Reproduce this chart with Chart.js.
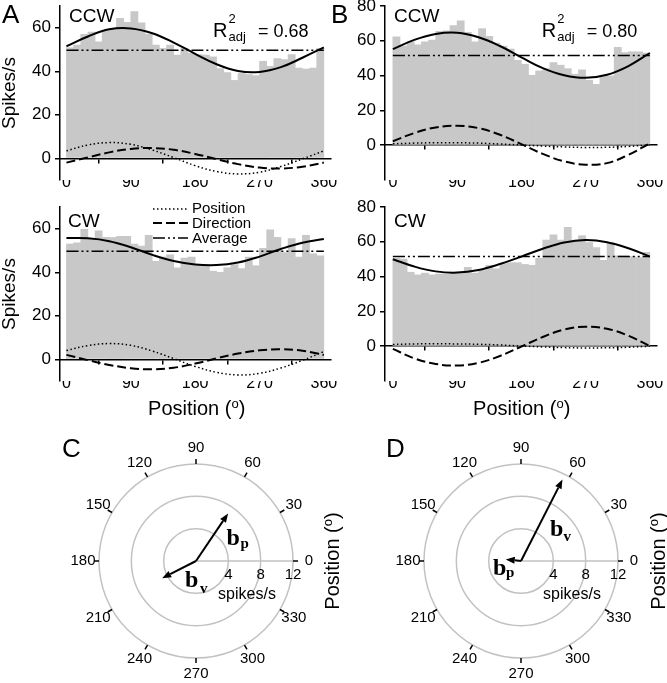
<!DOCTYPE html>
<html>
<head>
<meta charset="utf-8">
<script src="https://cdn.jsdelivr.net/npm/chart.js@4.4.1/dist/chart.umd.min.js"></script>
<style>
  body { margin: 0; background: #fff; }
  #fig { position: relative; width: 667px; height: 683px; overflow: hidden; color: #000;
         font-family: "Liberation Sans", Arial, sans-serif; }
  #fig canvas { position: absolute; }
  .t { position: absolute; white-space: nowrap; line-height: 1; }
  .vert { position: absolute; white-space: nowrap; line-height: 1; transform: translate(-50%, -50%) rotate(-90deg); }
</style>
</head>
<body>
<div id="fig">
  <canvas id="ccwA" width="340" height="210" style="left:0px;top:-10px"></canvas>
  <canvas id="cwA" width="340" height="211" style="left:0px;top:190px"></canvas>
  <canvas id="ccwB" width="337" height="210" style="left:330px;top:-10px"></canvas>
  <canvas id="cwB" width="337" height="211" style="left:330px;top:190px"></canvas>
  <canvas id="polC" width="300" height="260" style="left:46px;top:431px"></canvas>
  <canvas id="polD" width="300" height="260" style="left:371px;top:431px"></canvas>
  <svg style="position:absolute;left:150px;top:200px" width="42" height="45">
    <line x1="3" y1="9" x2="38" y2="9" stroke="#000" stroke-width="1.5" stroke-dasharray="1.5 2.5"/>
    <line x1="3" y1="23" x2="38" y2="23" stroke="#000" stroke-width="2" stroke-dasharray="9 4"/>
    <line x1="3" y1="38" x2="38" y2="38" stroke="#000" stroke-width="1.5" stroke-dasharray="12 3 2 3 2 3"/>
  </svg>
</div>
<script>
// histogram bins (10 deg each) and fitted curves read at 30 deg steps
const binCenters = [5, 15, 25, 35, 45, 55, 65, 75, 85, 95, 105, 115, 125, 135, 145, 155, 165, 175,
                    185, 195, 205, 215, 225, 235, 245, 255, 265, 275, 285, 295, 305, 315, 325, 335, 345, 355];
const curveDeg = [0, 30, 60, 90, 120, 150, 180, 210, 240, 270, 300, 330, 360];
const xTickLabels = [0, 90, 180, 270, 360];

// panel A, CCW
const barsAccw = [50.8, 52, 57, 58, 53.5, 58.6, 59.4, 64.3, 62.5, 67.4, 62.3, 57, 52, 50.5, 52, 47.4, 50.5, 48.2,
                  47.7, 47.4, 46.6, 41.2, 39.4, 35.8, 39, 38.5, 38, 44.6, 42.3, 45.8, 45.4, 47.7, 41.5, 41, 41.5, 50.5];
const fitAccw = [51.5, 56.0, 59.3, 59.7, 57.5, 53.2, 48.0, 43.2, 40.1, 39.7, 41.9, 46.2, 51.0];
const posAccw = [3.4, 6.1, 7.2, 6.4, 3.8, 0.3, -3.4, -6.1, -7.2, -6.4, -3.8, -0.3, 3.4];
const dirAccw = [-2.0, 0.4, 2.7, 4.3, 4.7, 3.9, 2.0, -0.4, -2.7, -4.3, -4.7, -3.9, -2.0];
const avgAccw = 49.6;

// panel A, CW
const barsAcw = [53, 53.5, 59.7, 55.5, 59, 56, 56, 56.5, 56.5, 53, 52, 57, 45, 47, 48, 42, 46.5, 47,
                 43.5, 43, 40.5, 40, 42, 43.5, 41.7, 47, 43, 51, 59.5, 56, 49, 55.5, 47, 57, 48.5, 47.5];
const fitAcw = [55.7, 55.6, 54.3, 51.5, 48.0, 45.2, 43.6, 43.3, 44.5, 47.2, 50.7, 53.6, 55.3];
const posAcw = [4.0, 6.3, 7.2, 6.4, 3.8, 0.3, -3.3, -6.0, -7.2, -6.5, -4.0, -0.5, 3.5];
const dirAcw = [2.0, -0.4, -2.6, -4.1, -4.6, -3.9, -2.0, 0.4, 2.6, 4.1, 4.6, 3.9, 2.0];
const avgAcw = 49.6;

// panel B, CCW
const barsBccw = [62.3, 57, 59.4, 57.7, 59.4, 60.4, 65.4, 65.8, 68.7, 71.5, 64.8, 59.4, 67, 62.5, 58.7, 57, 55.2, 48.8,
                  46.5, 40.2, 42.7, 44, 47.5, 46, 44, 40.8, 43.3, 37.3, 35, 40.2, 39.8, 56.2, 53.3, 53.7, 53.7, 52.9];
const fitBccw = [55.2, 60.5, 63.9, 64.6, 62.0, 57.0, 50.5, 44.3, 40.2, 38.7, 40.5, 45.5, 53.0];
const posBccw = [0.8, 1.2, 1.4, 1.4, 1.2, 0.7, 0.1, -0.5, -1.0, -1.3, -1.2, -0.7, 0.2];
const dirBccw = [2.3, 7.0, 10.2, 11.2, 9.8, 6.0, 0.6, -5.0, -9.3, -11.2, -10.3, -5.5, 1.0];
const avgBccw = 51.6;

// panel B, CW
const barsBcw = [50.5, 50, 42.5, 41, 42, 41, 41.5, 41.5, 42.5, 42.5, 45.3, 42, 43.5, 46.5, 44.5, 47.5, 48, 48,
                 47, 46.5, 50.5, 61, 64, 61, 68.3, 61, 63.5, 59.6, 56.7, 49.4, 59.6, 52, 52, 51.5, 51, 54];
const fitBcw = [50.0, 45.8, 43.0, 42.3, 43.8, 47.2, 51.5, 56.0, 59.6, 61.0, 59.8, 56.3, 51.5];
const posBcw = [1.0, 1.3, 1.4, 1.3, 1.1, 0.7, 0.1, -0.4, -0.8, -1.0, -0.9, -0.6, 0.0];
const dirBcw = [-1.5, -7.0, -10.2, -11.1, -9.6, -5.6, -0.2, 5.3, 9.6, 11.2, 10.0, 6.0, 0.0];
const avgBcw = 51.6;

// polar panels: regression vectors (magnitude in spikes/s, angle in deg)
const polarAngleLabels = ['90', '60', '30', '0', '330', '300', '270', '240', '210', '180', '150', '120'];
const polarRingTicks = [4, 8, 12];
const vecC = { mag: [7.1, 4.7], deg: [56, 207] };
const vecD = { mag: [11.3, 1.9], deg: [63, 174] };

Chart.defaults.font.family = '"Liberation Sans", Arial, sans-serif';
Chart.defaults.color = '#000';

const pts = (xs, ys) => xs.map((x, i) => ({ x: x, y: ys[i] }));

function histChart(id, bars, fit, pos, dir, avg, cfg) {
  const line = (data, width, dash) => ({
    type: 'line', data: data, borderColor: '#000', borderWidth: width, borderDash: dash,
    pointRadius: 0, tension: 0.4, fill: false, order: 1, xAxisID: 'x', yAxisID: 'y'
  });
  const setTicks = s => { s.ticks = xTickLabels.map(v => ({ value: v })); };

  return new Chart(document.getElementById(id), {
    type: 'bar',
    data: {
      datasets: [
        line(pts(curveDeg, fit), 2, []),
        line(pts(curveDeg, pos), 1.5, [1.5, 2.5]),
        line(pts(curveDeg, dir), 2, [9, 4]),
        line([{ x: xTickLabels[0], y: avg }, { x: xTickLabels[xTickLabels.length - 1], y: avg }], 1.5, [12, 3, 2, 3, 2, 3]),
        {
          type: 'bar', data: pts(binCenters, bars), backgroundColor: '#c8c8c8', borderWidth: 0,
          barPercentage: 1, categoryPercentage: 1, order: 10, xAxisID: 'x', yAxisID: 'y'
        }
      ]
    },
    options: {
      responsive: false,
      animation: false,
      layout: { padding: { top: cfg.padTop, right: cfg.padRight, left: 0, bottom: 0 } },
      plugins: { legend: { display: false }, tooltip: { enabled: false } },
      scales: {
        x: {
          type: 'linear', min: cfg.xMin, max: 370, offset: false,
          afterBuildTicks: setTicks,
          afterFit: s => { s.height = 20; },
          grid: { display: false, drawTicks: false, offset: false },
          border: { display: false },
          ticks: { padding: -7, font: { size: 16 }, maxRotation: 0, autoSkip: false }
        },
        x0: {
          type: 'linear', axis: 'x', position: { y: 0 }, min: cfg.xMin, max: 370, offset: false,
          afterBuildTicks: setTicks,
          grid: { drawOnChartArea: false, drawTicks: true, tickLength: 4, color: '#000', lineWidth: 1.5 },
          border: { color: '#000', width: 1.5 },
          ticks: { display: false }
        },
        y: {
          type: 'linear', position: 'left', min: cfg.yMin, max: cfg.yMax,
          afterFit: s => { s.width = cfg.yWidth; },
          ticks: {
            stepSize: cfg.yStep, font: { size: 17 }, padding: 4, autoSkip: false,
            callback: v => (v >= 0 && v % 20 === 0) ? String(v) : null
          },
          grid: { drawOnChartArea: false, tickLength: 5, color: '#000', lineWidth: 1.5 },
          border: { color: '#000', width: 1.5 },
          title: { display: cfg.title, text: 'Spikes/s', font: { size: 19, lineHeight: 1 }, padding: 0 }
        }
      }
    }
  });
}

const cfgA = { xMin: -9, yMin: -10, yMax: 70, yStep: 10, yWidth: 60, padRight: 9, title: true };
const cfgB = { xMin: -11, yMin: -20, yMax: 80, yStep: 20, yWidth: 55, padRight: 10, title: false };

histChart('ccwA', barsAccw, fitAccw, posAccw, dirAccw, avgAccw, Object.assign({ padTop: 16 }, cfgA));
histChart('cwA', barsAcw, fitAcw, posAcw, dirAcw, avgAcw, Object.assign({ padTop: 17 }, cfgA));
histChart('ccwB', barsBccw, fitBccw, posBccw, dirBccw, avgBccw, Object.assign({ padTop: 16 }, cfgB));
histChart('cwB', barsBcw, fitBcw, posBcw, dirBcw, avgBcw, Object.assign({ padTop: 17 }, cfgB));

function drawArrow(ctx, x0, y0, x1, y1) {
  const a = Math.atan2(y1 - y0, x1 - x0), L = 9, W = 3.5;
  const bx = x1 - L * Math.cos(a), by = y1 - L * Math.sin(a);
  ctx.beginPath(); ctx.moveTo(x0, y0); ctx.lineTo(bx, by); ctx.stroke();
  ctx.beginPath();
  ctx.moveTo(x1, y1);
  ctx.lineTo(bx - W * Math.sin(a), by + W * Math.cos(a));
  ctx.lineTo(bx + W * Math.sin(a), by - W * Math.cos(a));
  ctx.closePath(); ctx.fill();
}

function polarChart(id, vec) {
  const polarDecor = {
    id: 'polarDecor',
    afterDraw(chart) {
      const s = chart.scales.r, ctx = chart.ctx, R = s.drawingArea;
      ctx.save();
      ctx.strokeStyle = '#000'; ctx.fillStyle = '#000'; ctx.lineWidth = 1.5;
      ctx.textAlign = 'center'; ctx.textBaseline = 'middle';
      ctx.font = '15px "Liberation Sans", Arial, sans-serif';
      polarAngleLabels.forEach((lab, i) => {
        const a = s.getPointPosition(i, R), b = s.getPointPosition(i, R + 5);
        ctx.beginPath(); ctx.moveTo(a.x, a.y); ctx.lineTo(b.x, b.y); ctx.stroke();
        const p = s.getPointPosition(i, R + 16);
        ctx.fillText(lab, p.x, p.y);
      });
      polarRingTicks.forEach(v => {
        ctx.fillText(String(v), s.xCenter + s.getDistanceFromCenterForValue(v), s.yCenter + 14);
      });
      ctx.font = '16px "Liberation Sans", Arial, sans-serif';
      ctx.fillText('spikes/s', s.xCenter + 51, s.yCenter + 34);
      ctx.lineWidth = 2;
      vec.mag.forEach((m, i) => {
        const d = s.getDistanceFromCenterForValue(m), a = vec.deg[i] * Math.PI / 180;
        drawArrow(ctx, s.xCenter, s.yCenter, s.xCenter + d * Math.cos(a), s.yCenter - d * Math.sin(a));
      });
      ctx.restore();
    }
  };
  return new Chart(document.getElementById(id), {
    type: 'radar',
    data: { labels: polarAngleLabels, datasets: [] },
    options: {
      responsive: false,
      animation: false,
      layout: { padding: { left: 53, right: 53, top: 33, bottom: 33 } },
      plugins: { legend: { display: false }, tooltip: { enabled: false } },
      scales: {
        r: {
          min: 0, max: 12,
          ticks: { stepSize: 4, display: false },
          grid: { circular: true, color: '#c2c2c2', lineWidth: 1.5 },
          angleLines: { color: c => c.label === '0' ? '#c2c2c2' : 'rgba(0,0,0,0)', lineWidth: 1.5 },
          pointLabels: { display: false }
        }
      }
    },
    plugins: [polarDecor]
  });
}

polarChart('polC', vecC);
polarChart('polD', vecD);

// text labels
const fig = document.getElementById('fig');
function txt(html, x, base, size, o) {
  o = o || {};
  const d = document.createElement('div');
  d.className = 't';
  d.innerHTML = html;
  d.style.fontFamily = o.serif ? '"Liberation Serif", serif' : '"Liberation Sans", Arial, sans-serif';
  d.style.fontSize = size + 'px';
  if (o.bold) d.style.fontWeight = 'bold';
  d.style.left = x + 'px';
  d.style.top = (base - (o.serif ? 0.8375 : 0.8465) * size) + 'px';
  if (o.center) d.style.transform = 'translateX(-50%)';
  fig.appendChild(d);
}
function vtxt(html, cx, cy, size) {
  const d = document.createElement('div');
  d.className = 'vert';
  d.innerHTML = html;
  d.style.fontSize = size + 'px';
  d.style.left = cx + 'px';
  d.style.top = cy + 'px';
  fig.appendChild(d);
}
const posTitle = 'Position (<span style="position:relative;top:-7px;font-size:13px">o</span>)';

txt('A', 2, 23, 26);
txt('B', 331, 23, 26);
txt('C', 62, 457, 26);
txt('D', 386, 457, 26);
txt('CCW', 69, 22, 19);
txt('CCW', 394, 22, 19);
txt('CW', 68, 227, 19);
txt('CW', 394, 227, 19);

[[213, '0.68'], [541.7, '0.80']].forEach(([x, v]) => {
  txt('R', x, 37, 20);
  txt('2', x + 15.5, 23.5, 13);
  txt('adj', x + 15.5, 41, 13);
  txt('= ' + v, x + 45, 37, 18);
});

txt('Position', 192, 213, 15);
txt('Direction', 192, 227.5, 15);
txt('Average', 192, 242.5, 15);

txt(posTitle, 196.7, 415, 20, { center: true });
txt(posTitle, 521.7, 415, 20, { center: true });
vtxt(posTitle, 332, 561, 20);
vtxt(posTitle, 658, 561, 20);

txt('b', 226.5, 545, 24, { serif: true, bold: true });
txt('p', 240.5, 549, 15, { serif: true, bold: true });
txt('b', 185, 587, 24, { serif: true, bold: true });
txt('v', 200, 593.5, 15, { serif: true, bold: true });
txt('b', 550, 536.5, 24, { serif: true, bold: true });
txt('v', 563.5, 542, 15, { serif: true, bold: true });
txt('b', 493, 575, 24, { serif: true, bold: true });
txt('p', 506, 577.5, 15, { serif: true, bold: true });
</script>
</body>
</html>
